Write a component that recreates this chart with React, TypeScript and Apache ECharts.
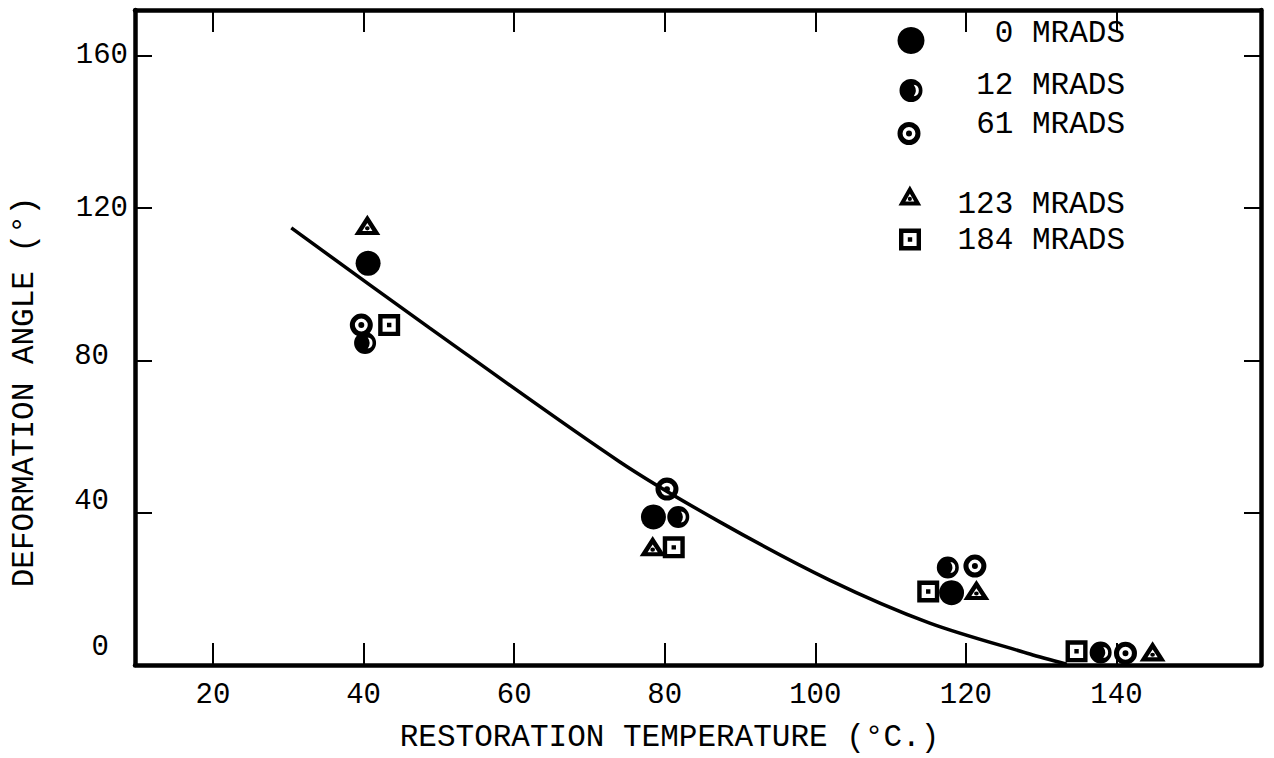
import React, { useEffect, useRef } from 'react';
import * as echarts from 'echarts';

const xTickValues = [20, 40, 60, 80, 100, 120, 140];
const yLabelValues = [0, 40, 80, 120, 160];
const yTickValues = [40, 80, 120, 160];

const seriesNames = ['0 MRADS', '12 MRADS', '61 MRADS', '123 MRADS', '184 MRADS'];

const mrad0 = [[40.6, 105.5], [78.5, 38.9], [118.1, 19.0]];
const mrad12 = [[40.2, 84.6], [81.8, 38.9], [117.6, 25.6], [137.9, 3.3]];
const mrad61 = [[39.7, 89.3], [80.3, 46.2], [121.2, 26.0], [141.2, 3.1]];
const mrad123 = [[40.5, 115.6], [78.4, 31.2], [121.4, 19.7], [144.8, 3.6]];
const mrad184 = [[43.4, 89.3], [81.2, 30.9], [115.0, 19.3], [134.7, 3.6]];

const curveX = [30.4, 48.8, 74.0, 87.3, 101.9, 115.2, 128.5, 133.4];
const curveY = [114.8, 88.5, 53.4, 37.6, 22.3, 11.0, 2.9, 0.2];

const FONT = "'Liberation Mono', 'DejaVu Sans Mono', monospace";

// symbol shapes (outer clockwise, holes counter-clockwise, dots clockwise)
const HALF_PATH =
  'path://M50 0 A50 50 0 1 1 50 100 A50 50 0 1 1 50 0 Z ' +
  'M62 25 A43 43 0 0 1 62 75 A25.2 25.2 0 0 0 62 25 Z';
const RING_PATH =
  'path://M50 0 A50 50 0 1 1 50 100 A50 50 0 1 1 50 0 Z ' +
  'M50 22 A28 28 0 1 0 50 78 A28 28 0 1 0 50 22 Z ' +
  'M50 37 A13 13 0 1 1 50 63 A13 13 0 1 1 50 37 Z';
const TRI_PATH =
  'path://M50 0 L100 88 L0 88 Z ' +
  'M50 36 L30.5 70.3 L69.5 70.3 Z ' +
  'M50 50 A9 9 0 1 1 50 68 A9 9 0 1 1 50 50 Z';
const SQ_PATH =
  'path://M0 0 L100 0 L100 100 L0 100 Z ' +
  'M20 20 L20 80 L80 80 L80 20 Z ' +
  'M40 40 L60 40 L60 60 L40 60 Z';

function makeLegend(name: string, cx: number, cy: number, iw: number, ih: number, pt: number, pb: number) {
  const left = cx - iw / 2;
  const textStart = left + iw + 5;
  const H = 32 + pt + pb;
  return {
    data: [name],
    left,
    top: cy - H / 2,
    padding: 0,
    orient: 'horizontal',
    itemWidth: iw,
    itemHeight: ih,
    selectedMode: false,
    formatter: '{r|{name}}',
    textStyle: {
      color: '#000',
      fontFamily: FONT,
      fontSize: 31,
      rich: {
        r: {
          fontFamily: FONT,
          fontSize: 31,
          lineHeight: 32,
          color: '#000',
          width: 1125 - textStart,
          align: 'right',
          padding: [pt, 0, pb, 0],
        },
      },
    },
  };
}

export default function App() {
  const ref = useRef<HTMLDivElement>(null);

  useEffect(() => {
    if (!ref.current) return;
    const chart = echarts.init(ref.current, null, { renderer: 'svg' });

    const axisLineStyle = { color: '#000', width: 4.5 };
    const tickLine = { color: '#000', width: 2 };

    const option: any = {
      animation: false,
      backgroundColor: '#fff',
      grid: { left: 135, right: 13, top: 10, bottom: 93, containLabel: false },
      legend: [
        makeLegend(seriesNames[0], 911, 41, 27, 27, 5, 19),
        makeLegend(seriesNames[1], 911, 91, 23, 23, 7, 17),
        makeLegend(seriesNames[2], 909, 134, 23, 23, 3, 21),
        makeLegend(seriesNames[3], 910, 196, 23, 20, 21, 3),
        makeLegend(seriesNames[4], 910, 240, 22, 22, 13, 11),
      ],
      xAxis: [
        {
          type: 'value',
          position: 'bottom',
          min: 9.64,
          max: 159.2,
          name: 'RESTORATION TEMPERATURE (°C.)',
          nameLocation: 'middle',
          nameGap: 57,
          nameTextStyle: { fontFamily: FONT, fontSize: 31, color: '#000', padding: [0, 57, 0, 0] },
          axisLine: { show: true, onZero: false, lineStyle: axisLineStyle },
          axisTick: { show: true, inside: true, length: 22, lineStyle: tickLine, customValues: xTickValues },
          axisLabel: {
            show: true,
            customValues: xTickValues,
            margin: 16,
            fontFamily: FONT,
            fontSize: 29,
            color: '#000',
          },
          splitLine: { show: false },
        },
        {
          type: 'value',
          position: 'top',
          min: 9.64,
          max: 159.2,
          axisLine: { show: true, onZero: false, lineStyle: axisLineStyle },
          axisTick: { show: true, inside: true, length: 22, lineStyle: tickLine, customValues: xTickValues },
          axisLabel: { show: false },
          splitLine: { show: false },
        },
      ],
      yAxis: [
        {
          type: 'value',
          position: 'left',
          min: 0,
          max: 172.05,
          name: 'DEFORMATION ANGLE (°)',
          nameLocation: 'middle',
          nameGap: 95,
          nameTextStyle: { fontFamily: FONT, fontSize: 31, color: '#000', padding: [0, 109, 0, 0] },
          axisLine: { show: true, onZero: false, lineStyle: axisLineStyle },
          axisTick: { show: true, inside: true, length: 17, lineStyle: tickLine, customValues: yTickValues },
          axisLabel: {
            show: true,
            customValues: yLabelValues,
            margin: 7,
            fontFamily: FONT,
            fontSize: 29,
            color: '#000',
            formatter: (v: number) => {
              if (v >= 120) return `{a|${v}}`;
              if (v === 80) return `{b|${v}}`;
              if (v === 40) return `{c|${v}}`;
              return `{d|${v}}`;
            },
            rich: {
              a: { fontFamily: FONT, fontSize: 29, color: '#000' },
              b: { fontFamily: FONT, fontSize: 29, color: '#000', padding: [0, 19, 8, 0] },
              c: { fontFamily: FONT, fontSize: 29, color: '#000', padding: [0, 19, 22, 0] },
              d: { fontFamily: FONT, fontSize: 29, color: '#000', padding: [0, 19, 36, 0] },
            },
          },
          splitLine: { show: false },
        },
        {
          type: 'value',
          position: 'right',
          min: 0,
          max: 172.05,
          axisLine: { show: true, onZero: false, lineStyle: axisLineStyle },
          axisTick: { show: true, inside: true, length: 17, lineStyle: tickLine, customValues: yTickValues },
          axisLabel: { show: false },
          splitLine: { show: false },
        },
      ],
      series: [
        {
          name: 'fit',
          type: 'line',
          data: curveX.map((x, i) => [x, curveY[i]]),
          smooth: 0.3,
          showSymbol: false,
          symbol: 'none',
          lineStyle: { color: '#000', width: 3.5 },
          z: 2,
          silent: true,
        },
        {
          name: seriesNames[0],
          type: 'scatter',
          data: mrad0,
          symbol: 'circle',
          symbolSize: 25,
          itemStyle: { color: '#000', opacity: 1 },
          z: 3,
        },
        {
          name: seriesNames[1],
          type: 'scatter',
          data: mrad12,
          symbol: HALF_PATH,
          symbolSize: 22,
          symbolKeepAspect: true,
          itemStyle: { color: '#000', opacity: 1 },
          z: 3,
        },
        {
          name: seriesNames[2],
          type: 'scatter',
          data: mrad61,
          symbol: RING_PATH,
          symbolSize: 23,
          symbolKeepAspect: true,
          itemStyle: { color: '#000', opacity: 1 },
          z: 3,
        },
        {
          name: seriesNames[3],
          type: 'scatter',
          data: mrad123,
          symbol: TRI_PATH,
          symbolSize: [26, 23],
          symbolKeepAspect: true,
          itemStyle: { color: '#000', opacity: 1 },
          z: 3,
        },
        {
          name: seriesNames[4],
          type: 'scatter',
          data: mrad184,
          symbol: SQ_PATH,
          symbolSize: 22,
          symbolKeepAspect: true,
          itemStyle: { color: '#000', opacity: 1 },
          z: 3,
        },
      ],
    };

    chart.setOption(option);
    return () => {
      chart.dispose();
    };
  }, []);

  return (
    <div
      ref={ref}
      style={{ position: 'fixed', left: 0, top: 0, width: 1274, height: 758, background: '#fff' }}
    />
  );
}
